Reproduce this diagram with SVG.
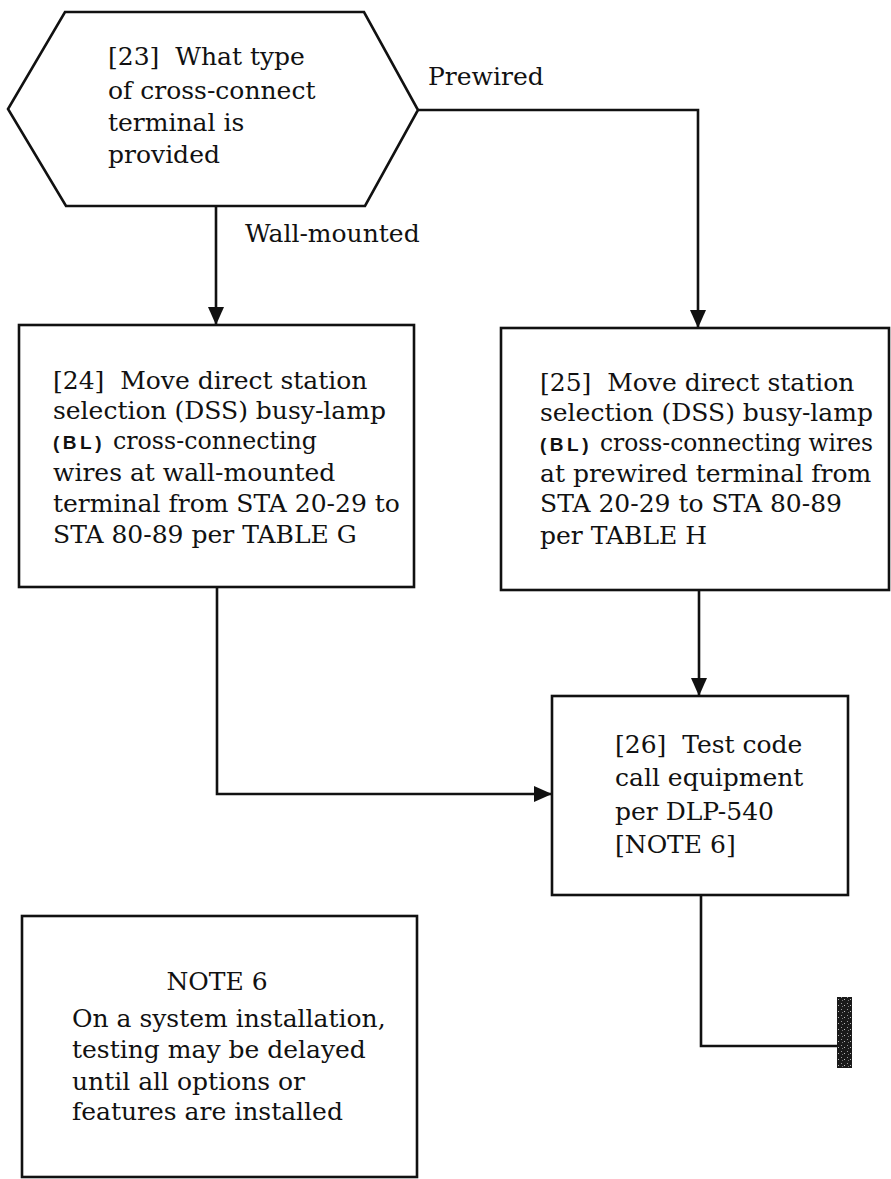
<svg xmlns="http://www.w3.org/2000/svg" width="891" height="1179" viewBox="0 0 891 1179">
  <style>
    .shape { fill: #ffffff; stroke: #111111; stroke-width: 2.6; }
    .wire { fill: none; stroke: #111111; stroke-width: 2.6; }
    .t { font-family: "DejaVu Serif", "Liberation Serif", serif; font-size: 25px; fill: #111111; white-space: pre; }
    .abbr { font-family: "Liberation Sans", "DejaVu Sans", sans-serif; font-size: 19px; font-weight: bold; letter-spacing: 3.5px; fill: #111111; }
  </style>
  <defs>
    <marker id="arrow" viewBox="0 0 18 16" refX="18" refY="8" markerWidth="18" markerHeight="16" markerUnits="userSpaceOnUse" orient="auto">
      <path d="M0,0 L18,8 L0,16 Z" fill="#111111"/>
    </marker>
    <pattern id="stipple" width="6" height="6" patternUnits="userSpaceOnUse">
      <rect width="6" height="6" fill="#1a1a1a"/>
      <rect x="1" y="1" width="1" height="1" fill="#9a9a9a"/>
      <rect x="4" y="3" width="1" height="1" fill="#bdbdbd"/>
      <rect x="2" y="4" width="1" height="1" fill="#777777"/>
    </pattern>
  </defs>

  <!-- connectors -->
  <g id="connectors">
    <path class="wire" d="M216,206 L216,325" marker-end="url(#arrow)"/>
    <path class="wire" d="M418,110 L698,110 L698,328" marker-end="url(#arrow)"/>
    <path class="wire" d="M217,587 L217,794 L552,794" marker-end="url(#arrow)"/>
    <path class="wire" d="M699,590 L699,696" marker-end="url(#arrow)"/>
    <path class="wire" d="M701,895 L701,1046 L838,1046"/>
    <text class="t" x="428" y="85">Prewired</text>
    <text class="t" x="245" y="242">Wall-mounted</text>
  </g>

  <!-- decision: terminal type -->
  <g id="node23">
    <polygon class="shape" points="65,12 364,12 418,110 365,206 66,206 8,109"/>
    <text class="t" x="108" y="65">[23]  What type</text>
    <text class="t" x="108" y="99">of cross-connect</text>
    <text class="t" x="108" y="131">terminal is</text>
    <text class="t" x="108" y="163">provided</text>
  </g>

  <!-- wall-mounted terminal step -->
  <g id="node24">
    <rect class="shape" x="19" y="325" width="395" height="262"/>
    <text class="t" x="53" y="389">[24]  Move direct station</text>
    <text class="t" x="53" y="419">selection (DSS) busy-lamp</text>
    <text class="abbr" x="53" y="449">(BL)</text>
    <text class="t" x="113" y="449" textLength="204" lengthAdjust="spacingAndGlyphs">cross-connecting</text>
    <text class="t" x="53" y="481">wires at wall-mounted</text>
    <text class="t" x="53" y="512">terminal from STA 20-29 to</text>
    <text class="t" x="53" y="543">STA 80-89 per TABLE G</text>
  </g>

  <!-- prewired terminal step -->
  <g id="node25">
    <rect class="shape" x="501" y="328" width="388" height="262"/>
    <text class="t" x="540" y="391">[25]  Move direct station</text>
    <text class="t" x="540" y="421">selection (DSS) busy-lamp</text>
    <text class="abbr" x="540" y="451">(BL)</text>
    <text class="t" x="600" y="451" textLength="273" lengthAdjust="spacingAndGlyphs">cross-connecting wires</text>
    <text class="t" x="540" y="482">at prewired terminal from</text>
    <text class="t" x="540" y="512">STA 20-29 to STA 80-89</text>
    <text class="t" x="540" y="544">per TABLE H</text>
  </g>

  <!-- test step -->
  <g id="node26">
    <rect class="shape" x="552" y="696" width="296" height="199"/>
    <text class="t" x="615" y="753">[26]  Test code</text>
    <text class="t" x="615" y="786">call equipment</text>
    <text class="t" x="615" y="820">per DLP-540</text>
    <text class="t" x="615" y="853">[NOTE 6]</text>
  </g>

  <!-- continuation bar -->
  <g id="continuation">
    <rect x="837" y="997" width="15" height="71" fill="url(#stipple)"/>
  </g>

  <!-- note box -->
  <g id="note6">
    <rect class="shape" x="22" y="916" width="395" height="261"/>
    <text class="t" x="217" y="990" text-anchor="middle">NOTE 6</text>
    <text class="t" x="72" y="1027">On a system installation,</text>
    <text class="t" x="72" y="1058">testing may be delayed</text>
    <text class="t" x="72" y="1090">until all options or</text>
    <text class="t" x="72" y="1120">features are installed</text>
  </g>
</svg>
